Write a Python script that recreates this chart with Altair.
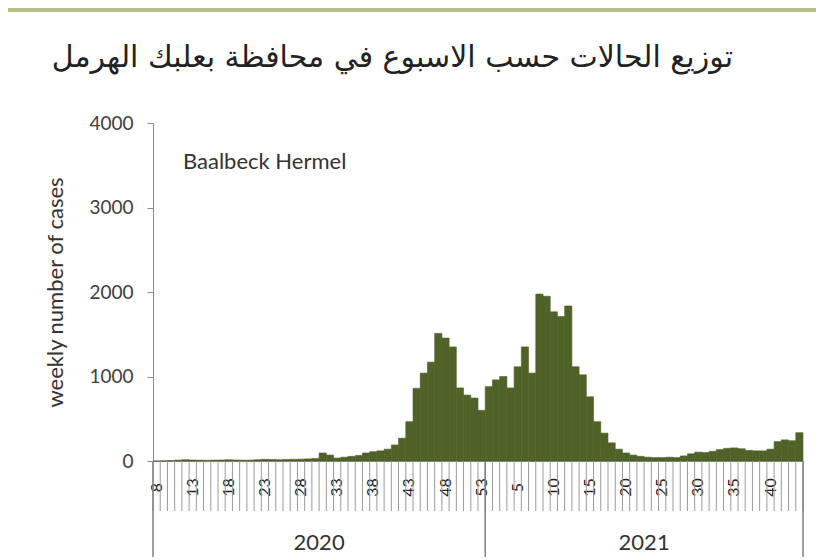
import altair as alt
import pandas as pd

# ---- data ----
weeks_2020 = list(range(8, 54))   # ISO weeks 8..53 of 2020
weeks_2021 = list(range(1, 45))   # ISO weeks 1..44 of 2021
cases_2020 = [0, 2, 5, 10, 15, 12, 10, 8, 10, 12,
              15, 12, 10, 10, 15, 20, 18, 15, 18, 20,
              22, 25, 30, 95, 70, 35, 45, 55, 65, 95,
              110, 120, 140, 190, 270, 465, 860, 1040, 1170, 1510,
              1455, 1350, 865, 780, 745, 600]
cases_2021 = [880, 960, 1000, 865, 1115, 1350, 1040, 1975, 1950, 1765,
              1710, 1835, 1115, 1020, 760, 465, 330, 215, 140, 95,
              70, 55, 45, 40, 40, 45, 40, 60, 85, 105,
              100, 115, 135, 150, 155, 145, 125, 120, 120, 140,
              230, 250, 240, 335]
year_names = ["2020", "2021"]
title_text = "توزيع الحالات حسب الاسبوع في محافظة بعلبك الهرمل"
region_text = "Baalbeck Hermel"
y_title = "weekly number of cases"
y_ticks = [0, 1000, 2000, 3000, 4000]

rows = []
for w, v in zip(weeks_2020, cases_2020):
    rows.append({"key": f"2020-{w:02d}", "year": "2020", "week": w, "cases": v})
for w, v in zip(weeks_2021, cases_2021):
    rows.append({"key": f"2021-{w:02d}", "year": "2021", "week": w, "cases": v})
df = pd.DataFrame(rows)
keys = list(df["key"])
shown = keys[::5]

W, H = 650, 338
FONT = "Lato"
GRAY = "#8c8c8c"
BAR = "#4f6228"

label_expr = ("indexof([" + ",".join("'" + k + "'" for k in shown) + "], datum.value) >= 0"
              " ? toNumber(slice(datum.value, 5)) : ''")

xscale = alt.Scale(domain=keys, paddingInner=0, paddingOuter=0)

bars = alt.Chart(df).mark_bar(color=BAR, stroke=BAR, strokeWidth=0.6).encode(
    x=alt.X("key:N", scale=xscale, sort=keys,
            axis=alt.Axis(title=None, ticks=False, domain=True, domainColor=GRAY,
                          labelExpr=label_expr, labelAngle=270, labelAlign="center",
                          labelBaseline="middle", labelPadding=26, labelFontSize=16,
                          labelColor="#222222", labelFont=FONT, labelOverlap=False,
                          labelBound=False, labelFlush=False)),
    y=alt.Y("cases:Q", scale=alt.Scale(domain=[0, 4000], nice=False),
            axis=alt.Axis(values=y_ticks, format="d", title=y_title, titleFont=FONT,
                          titleFontSize=22, titleFontWeight="normal", titleColor="#333333",
                          titlePadding=21, domainColor=GRAY, tickColor=GRAY, tickSize=6,
                          labelPadding=14, labelFontSize=19, labelFont=FONT,
                          labelColor="#404040", grid=False)),
)

# category boundary ticks in the label zone
ticks_left = alt.Chart(df).mark_rule(color="#9a9a9a", strokeWidth=1).encode(
    x=alt.X("key:N", scale=xscale, sort=keys, bandPosition=0),
    y=alt.value(H), y2=alt.value(H + 50),
)
last_df = df.tail(1)
ticks_right = alt.Chart(last_df).mark_rule(color="#9a9a9a", strokeWidth=1).encode(
    x=alt.X("key:N", scale=xscale, sort=keys, bandPosition=1),
    y=alt.value(H), y2=alt.value(H + 50),
)

# year separators
first_keys = df.groupby("year").head(1)
sep_left = alt.Chart(first_keys).mark_rule(color="#7f7f7f", strokeWidth=1.5).encode(
    x=alt.X("key:N", scale=xscale, sort=keys, bandPosition=0),
    y=alt.value(H), y2=alt.value(H + 120),
)
sep_right = alt.Chart(last_df).mark_rule(color="#7f7f7f", strokeWidth=1.5).encode(
    x=alt.X("key:N", scale=xscale, sort=keys, bandPosition=1),
    y=alt.value(H), y2=alt.value(H + 120),
)

# year labels, centred on each year's group of weeks
n20, n21 = len(weeks_2020), len(weeks_2021)
year_df = pd.DataFrame({"year": year_names,
                        "key": [keys[n20 // 2], keys[n20 + n21 // 2]]})
year_text = alt.Chart(year_df).mark_text(font=FONT, fontSize=22, color="#333333",
                                         baseline="middle", align="center").encode(
    x=alt.X("key:N", scale=xscale, sort=keys, bandPosition=0),
    y=alt.value(H + 82),
    text="year:N",
)

title = alt.Chart(pd.DataFrame({"t": [title_text]})).mark_text(
    font="DejaVu Sans", fontSize=30, color="#222222", align="right", baseline="middle"
).encode(x=alt.value(580), y=alt.value(-65), text="t:N")

region = alt.Chart(pd.DataFrame({"t": [region_text]})).mark_text(
    font=FONT, fontSize=22, color="#333333", align="left", baseline="middle"
).encode(x=alt.value(30), y=alt.value(39), text="t:N")

# olive frame line along the top of the figure
frame_top = alt.Chart(pd.DataFrame({"a": [0]})).mark_rule(color="#b9bd87", strokeWidth=4).encode(
    x=alt.value(-145), x2=alt.value(W + 13), y=alt.value(-113),
)

chart = alt.layer(frame_top, bars, ticks_left, ticks_right, sep_left, sep_right,
                  year_text, title, region).properties(
    width=W, height=H,
    autosize=alt.AutoSizeParams(type="none"),
    padding={"left": 145, "top": 115, "right": 13, "bottom": 96},
    background="white",
).configure_view(stroke=None)

chart.save("out.html", embed_options={"renderer": "svg", "actions": False})
